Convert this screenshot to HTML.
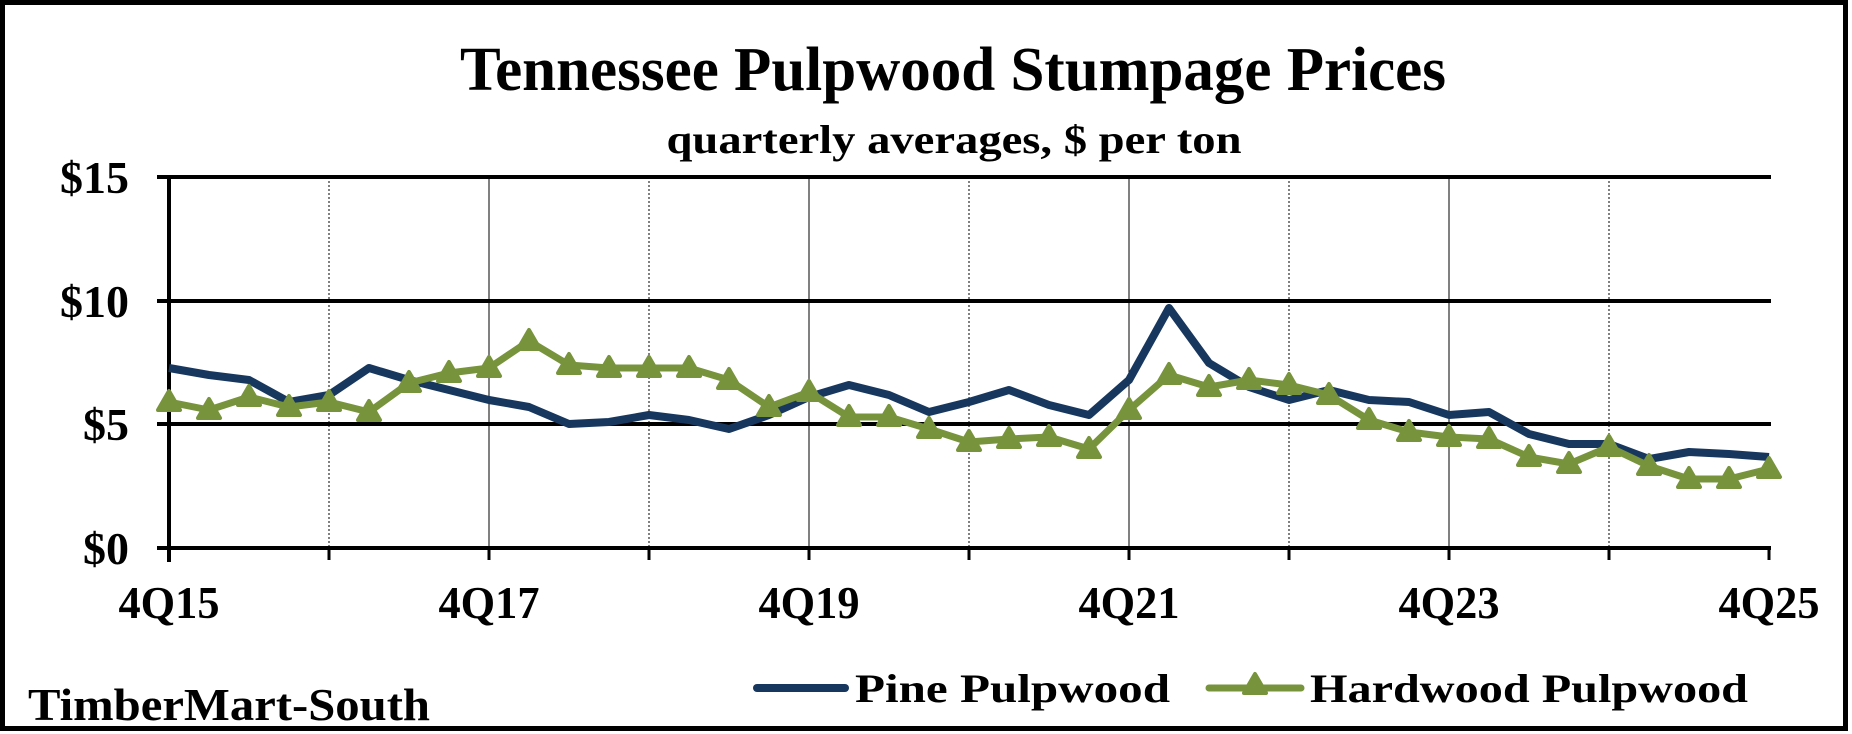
<!DOCTYPE html>
<html><head><meta charset="utf-8"><style>
html,body{margin:0;padding:0;background:#fff}
svg{display:block}
text{font-family:"Liberation Serif",serif;font-weight:bold;fill:#000}
</style></head><body>
<svg width="1852" height="734" viewBox="0 0 1852 734" xmlns="http://www.w3.org/2000/svg">
<rect x="2.5" y="2.5" width="1843" height="726" fill="#fff" stroke="#000" stroke-width="5"/>
<text x="953" y="90" font-size="62" text-anchor="middle" textLength="986" lengthAdjust="spacingAndGlyphs">Tennessee Pulpwood Stumpage Prices</text>
<text x="954" y="153" font-size="40" text-anchor="middle" textLength="575" lengthAdjust="spacingAndGlyphs">quarterly averages, $ per ton</text>
<g stroke="#000" stroke-width="1">
<line x1="329" y1="177" x2="329" y2="548" stroke-dasharray="2,2"/>
<line x1="489" y1="177" x2="489" y2="548"/>
<line x1="649" y1="177" x2="649" y2="548" stroke-dasharray="2,2"/>
<line x1="809" y1="177" x2="809" y2="548"/>
<line x1="969" y1="177" x2="969" y2="548" stroke-dasharray="2,2"/>
<line x1="1129" y1="177" x2="1129" y2="548"/>
<line x1="1289" y1="177" x2="1289" y2="548" stroke-dasharray="2,2"/>
<line x1="1449" y1="177" x2="1449" y2="548"/>
<line x1="1609" y1="177" x2="1609" y2="548" stroke-dasharray="2,2"/>
</g>
<g stroke="#000" stroke-width="4">
<line x1="157" y1="177" x2="1771" y2="177"/>
<line x1="157" y1="301" x2="1771" y2="301"/>
<line x1="157" y1="424" x2="1771" y2="424"/>
<line x1="157" y1="548" x2="1771" y2="548"/>
<line x1="169" y1="175" x2="169" y2="562"/>
<g stroke-width="3">
<line x1="329" y1="548" x2="329" y2="560"/><line x1="489" y1="548" x2="489" y2="560"/><line x1="649" y1="548" x2="649" y2="560"/><line x1="809" y1="548" x2="809" y2="560"/><line x1="969" y1="548" x2="969" y2="560"/><line x1="1129" y1="548" x2="1129" y2="560"/><line x1="1289" y1="548" x2="1289" y2="560"/><line x1="1449" y1="548" x2="1449" y2="560"/><line x1="1609" y1="548" x2="1609" y2="560"/><line x1="1769" y1="548" x2="1769" y2="560"/>
</g>
</g>
<g font-size="46" text-anchor="end">
<text x="129" y="193">$15</text>
<text x="129" y="317">$10</text>
<text x="129" y="440">$5</text>
<text x="129" y="564">$0</text>
</g>
<g font-size="46" text-anchor="middle">
<text x="169" y="618" textLength="101" lengthAdjust="spacingAndGlyphs">4Q15</text>
<text x="489" y="618" textLength="101" lengthAdjust="spacingAndGlyphs">4Q17</text>
<text x="809" y="618" textLength="101" lengthAdjust="spacingAndGlyphs">4Q19</text>
<text x="1129" y="618" textLength="101" lengthAdjust="spacingAndGlyphs">4Q21</text>
<text x="1449" y="618" textLength="101" lengthAdjust="spacingAndGlyphs">4Q23</text>
<text x="1769" y="618" textLength="101" lengthAdjust="spacingAndGlyphs">4Q25</text>
</g>
<polyline fill="none" stroke="#17375E" stroke-width="8" stroke-linejoin="round" points="169,368 209,375 249,380 289,402 329,395 369,368 409,380 449,390 489,400 529,407 569,424 609,422 649,415 689,420 729,429 769,415 809,397 849,385 889,395 929,412 969,402 1009,390 1049,405 1089,415 1129,380 1169,308 1209,363 1249,387 1289,400 1329,390 1369,400 1409,402 1449,415 1489,412 1529,434 1569,444 1609,444 1649,459 1689,452 1729,454 1769,457"/>
<g fill="#77933C" stroke="#77933C">
<polyline fill="none" stroke-width="7" stroke-linejoin="round" points="169,402 209,410 249,397 289,407 329,402 369,412 409,383 449,373 489,368 529,341 569,365 609,368 649,368 689,368 729,380 769,407 809,392 849,417 889,417 929,429 969,442 1009,439 1049,437 1089,449 1129,410 1169,375 1209,387 1249,380 1289,385 1329,395 1369,420 1409,432 1449,437 1489,439 1529,457 1569,464 1609,447 1649,466 1689,479 1729,479 1769,469"/>
<g stroke-width="4" stroke-linejoin="round">
<polygon points="169,391 180,410 158,410"/><polygon points="209,399 220,418 198,418"/><polygon points="249,386 260,405 238,405"/><polygon points="289,396 300,415 278,415"/><polygon points="329,391 340,410 318,410"/><polygon points="369,401 380,420 358,420"/><polygon points="409,372 420,391 398,391"/><polygon points="449,362 460,381 438,381"/><polygon points="489,357 500,376 478,376"/><polygon points="529,330 540,349 518,349"/><polygon points="569,354 580,373 558,373"/><polygon points="609,357 620,376 598,376"/><polygon points="649,357 660,376 638,376"/><polygon points="689,357 700,376 678,376"/><polygon points="729,369 740,388 718,388"/><polygon points="769,396 780,415 758,415"/><polygon points="809,381 820,400 798,400"/><polygon points="849,406 860,425 838,425"/><polygon points="889,406 900,425 878,425"/><polygon points="929,418 940,437 918,437"/><polygon points="969,431 980,450 958,450"/><polygon points="1009,428 1020,447 998,447"/><polygon points="1049,426 1060,445 1038,445"/><polygon points="1089,438 1100,457 1078,457"/><polygon points="1129,399 1140,418 1118,418"/><polygon points="1169,364 1180,383 1158,383"/><polygon points="1209,376 1220,395 1198,395"/><polygon points="1249,369 1260,388 1238,388"/><polygon points="1289,374 1300,393 1278,393"/><polygon points="1329,384 1340,403 1318,403"/><polygon points="1369,409 1380,428 1358,428"/><polygon points="1409,421 1420,440 1398,440"/><polygon points="1449,426 1460,445 1438,445"/><polygon points="1489,428 1500,447 1478,447"/><polygon points="1529,446 1540,465 1518,465"/><polygon points="1569,453 1580,472 1558,472"/><polygon points="1609,436 1620,455 1598,455"/><polygon points="1649,455 1660,474 1638,474"/><polygon points="1689,468 1700,487 1678,487"/><polygon points="1729,468 1740,487 1718,487"/><polygon points="1769,458 1780,477 1758,477"/>
</g>
</g>
<line x1="757" y1="688" x2="845" y2="688" stroke="#17375E" stroke-width="8" stroke-linecap="round"/>
<text x="855" y="702" font-size="40" textLength="315" lengthAdjust="spacingAndGlyphs">Pine Pulpwood</text>
<line x1="1209" y1="688" x2="1301" y2="688" stroke="#77933C" stroke-width="7" stroke-linecap="round"/>
<polygon points="1255,674 1266,693 1244,693" fill="#77933C" stroke="#77933C" stroke-width="4" stroke-linejoin="round"/>
<text x="1310" y="702" font-size="40" textLength="438" lengthAdjust="spacingAndGlyphs">Hardwood Pulpwood</text>
<text x="28" y="720" font-size="46" textLength="402" lengthAdjust="spacingAndGlyphs">TimberMart-South</text>
</svg>
</body></html>
